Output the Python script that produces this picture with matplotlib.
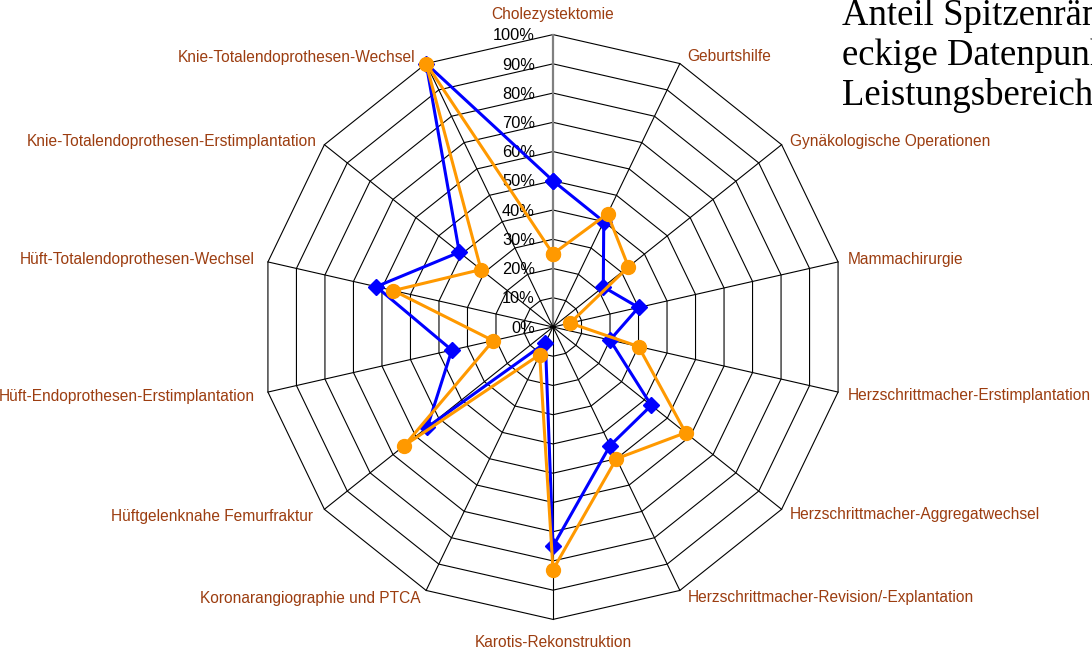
#!/usr/bin/env python3

import numpy as np
import matplotlib
matplotlib.use('Agg')
import matplotlib.pyplot as plt

######################
# Data
######################
categories = [
    "Cholezystektomie",
    "Geburtshilfe",
    "Gynäkologische Operationen",
    "Mammachirurgie",
    "Herzschrittmacher-Erstimplantation",
    "Herzschrittmacher-Aggregatwechsel",
    "Herzschrittmacher-Revision/-Explantation",
    "Karotis-Rekonstruktion",
    "Koronarangiographie und PTCA",
    "Hüftgelenknahe Femurfraktur",
    "Hüft-Endoprothesen-Erstimplantation",
    "Hüft-Totalendoprothesen-Wechsel",
    "Knie-Totalendoprothesen-Erstimplantation",
    "Knie-Totalendoprothesen-Wechsel",
]

# values in percent
blue_vals = [50, 40, 22, 30, 20, 43, 45, 75, 6, 55, 35.5, 62, 41, 100]
orange_vals = [25, 43, 33, 6, 30, 58, 50, 83, 10.5, 65, 21, 56, 31.5, 100]

tick_vals = [0, 10, 20, 30, 40, 50, 60, 70, 80, 90, 100]
tick_labels = ["%d%%" % t for t in tick_vals]

title_lines = ["Anteil Spitzenränge", "eckige Datenpunkte", "Leistungsbereiche"]

# label layout: (dx, dy) pixel offsets from the outer vertex, and alignment
label_layout = [
    (0, 20, 'center'),
    (7, 7, 'left'),
    (8, 3, 'left'),
    (10, 2, 'left'),
    (10, -3, 'left'),
    (8, -5, 'left'),
    (8, -7, 'left'),
    (0, -23, 'center'),
    (-6, -8, 'right'),
    (-11, -7, 'right'),
    (-13, -4, 'right'),
    (-13, 2, 'right'),
    (-8, 3, 'right'),
    (-11, 6, 'right'),
]

LABEL_COLOR = '#9C3D10'
BLUE = '#0000FF'
ORANGE = '#FF9900'

######################
# Geometry
######################
n = len(categories)
ang = np.arange(n) * 2 * np.pi / n          # clockwise from top

def xy(vals):
    v = np.asarray(vals, dtype=float)
    return v * np.sin(ang), v * np.cos(ang)

PX = 2.924          # pixels per percent
W, H = 1092, 651
CX, CY = 553, 327   # centre in pixels (from top-left)

fig = plt.figure(figsize=(W / 100, H / 100), dpi=100)
ax = fig.add_axes([0, 0, 1, 1])
ax.set_xlim(-CX / PX, (W - CX) / PX)
ax.set_ylim(-(H - CY) / PX, CY / PX)
ax.axis('off')

# rings
for t in tick_vals[1:]:
    gx, gy = xy([t] * n)
    ax.plot(np.append(gx, gx[0]), np.append(gy, gy[0]), color='black', lw=0.8, zorder=1)

# spokes
for i in range(n):
    col = '#808080' if i == 0 else 'black'
    lw = 1.6 if i == 0 else 0.8
    ax.plot([0, 100 * np.sin(ang[i])], [0, 100 * np.cos(ang[i])], color=col, lw=lw, zorder=1)

# tick labels
for t, lab in zip(tick_vals, tick_labels):
    ax.text(-6.2, t - 0.4, lab, ha='right', va='center', fontsize=11.8,
            family='Liberation Sans', color='black', zorder=2)

# series
bx, by = xy(blue_vals)
ax.plot(np.append(bx, bx[0]), np.append(by, by[0]), color=BLUE, lw=2.2,
        marker='D', ms=8, zorder=3)
ox, oy = xy(orange_vals)
ax.plot(np.append(ox, ox[0]), np.append(oy, oy[0]), color=ORANGE, lw=2.2,
        marker='o', ms=10, zorder=4)

# category labels
for i, cat in enumerate(categories):
    dx, dy, ha = label_layout[i]
    vx = 100 * np.sin(ang[i])
    vy = 100 * np.cos(ang[i])
    ax.text(vx + dx / PX, vy + dy / PX, cat, ha=ha, va='center', fontsize=11.2,
            family='Liberation Sans', color=LABEL_COLOR)

# title text (cut off at right edge, as in the original)
for k, line in enumerate(title_lines):
    fig.text(842 / W, 1 - (25 + 40 * k) / H, line, ha='left', va='baseline',
             fontsize=26.5, family='Liberation Serif', color='black')

plt.savefig('out.png', dpi=100)
